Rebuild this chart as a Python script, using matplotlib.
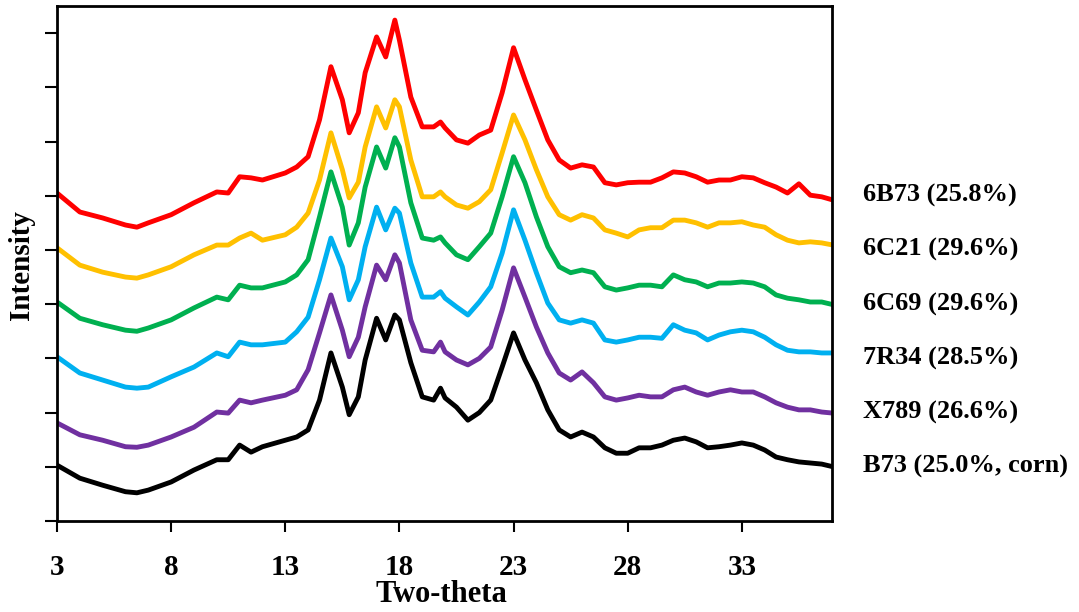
import matplotlib
matplotlib.use("Agg")
import matplotlib.pyplot as plt

# Diffraction angle (degrees two-theta) shared by all patterns
two_theta = [3, 4, 5, 6, 6.5, 7, 8, 9, 10, 10.5, 11, 11.5, 12, 13, 13.5, 14, 14.5,
             15, 15.5, 15.8, 16.2, 16.5, 17, 17.4, 17.8, 18, 18.5, 19, 19.5, 19.8,
             20, 20.5, 21, 21.5, 22, 22.5, 23, 23.5, 24, 24.5, 25, 25.5, 26, 26.5,
             27, 27.5, 28, 28.5, 29, 29.5, 30, 30.5, 31, 31.5, 32, 32.5, 33, 33.5,
             34, 34.5, 35, 35.5, 36, 36.5, 37]

# Stacked intensity traces (arbitrary units, already offset)
b73 = [1.03, 0.79, 0.66, 0.54, 0.52, 0.57, 0.72, 0.94, 1.13, 1.13, 1.40, 1.27, 1.37,
       1.49, 1.55, 1.68, 2.23, 3.10, 2.47, 1.96, 2.29, 2.97, 3.74, 3.34, 3.80, 3.71,
       2.92, 2.29, 2.23, 2.45, 2.27, 2.10, 1.86, 2.00, 2.23, 2.84, 3.47, 2.97, 2.55,
       2.05, 1.68, 1.55, 1.64, 1.55, 1.35, 1.25, 1.25, 1.35, 1.35, 1.40, 1.49, 1.53,
       1.46, 1.35, 1.37, 1.40, 1.44, 1.40, 1.31, 1.18, 1.13, 1.09, 1.07, 1.05, 1.00]
x789 = [1.81, 1.59, 1.49, 1.37, 1.36, 1.40, 1.55, 1.73, 2.01, 1.99, 2.23, 2.18, 2.23,
        2.32, 2.42, 2.79, 3.47, 4.17, 3.52, 3.03, 3.39, 3.95, 4.72, 4.45, 4.91, 4.76,
        3.71, 3.15, 3.12, 3.30, 3.12, 2.97, 2.88, 3.00, 3.21, 3.89, 4.67, 4.13, 3.58,
        3.10, 2.73, 2.60, 2.75, 2.55, 2.29, 2.23, 2.27, 2.32, 2.29, 2.29, 2.42, 2.47,
        2.38, 2.32, 2.38, 2.42, 2.38, 2.38, 2.29, 2.18, 2.10, 2.05, 2.05, 2.01, 1.99]
r7r34 = [3.03, 2.73, 2.60, 2.47, 2.45, 2.47, 2.66, 2.84, 3.10, 3.03, 3.30, 3.25, 3.25,
         3.30, 3.49, 3.76, 4.45, 5.22, 4.69, 4.08, 4.45, 5.06, 5.79, 5.37, 5.77, 5.68,
         4.76, 4.13, 4.13, 4.23, 4.11, 3.95, 3.80, 4.04, 4.32, 4.94, 5.74, 5.18, 4.58,
         4.02, 3.71, 3.65, 3.71, 3.65, 3.34, 3.30, 3.34, 3.39, 3.39, 3.37, 3.62, 3.52,
         3.47, 3.34, 3.43, 3.49, 3.52, 3.49, 3.39, 3.25, 3.15, 3.12, 3.12, 3.10, 3.10]
c6c69 = [4.04, 3.74, 3.62, 3.52, 3.50, 3.56, 3.71, 3.93, 4.13, 4.08, 4.35, 4.30, 4.30,
         4.41, 4.54, 4.82, 5.61, 6.44, 5.79, 5.09, 5.50, 6.16, 6.90, 6.51, 7.07, 6.90,
         5.87, 5.22, 5.18, 5.24, 5.13, 4.91, 4.82, 5.06, 5.31, 5.98, 6.72, 6.24, 5.61,
         5.06, 4.69, 4.58, 4.63, 4.58, 4.32, 4.26, 4.30, 4.35, 4.35, 4.32, 4.54, 4.45,
         4.41, 4.32, 4.39, 4.39, 4.41, 4.39, 4.32, 4.17, 4.11, 4.08, 4.04, 4.04, 3.99]
c6c21 = [5.04, 4.72, 4.59, 4.50, 4.48, 4.54, 4.69, 4.91, 5.09, 5.09, 5.22, 5.31, 5.18,
         5.28, 5.42, 5.68, 6.29, 7.16, 6.48, 5.96, 6.25, 6.90, 7.64, 7.25, 7.77, 7.64,
         6.66, 5.98, 5.98, 6.07, 5.98, 5.83, 5.77, 5.89, 6.11, 6.79, 7.49, 7.03, 6.48,
         5.98, 5.65, 5.55, 5.65, 5.59, 5.37, 5.31, 5.24, 5.37, 5.41, 5.41, 5.55, 5.55,
         5.50, 5.42, 5.50, 5.50, 5.52, 5.46, 5.42, 5.28, 5.18, 5.13, 5.15, 5.13, 5.09]
b6b73 = [6.05, 5.70, 5.59, 5.46, 5.42, 5.50, 5.65, 5.87, 6.07, 6.05, 6.35, 6.33, 6.29,
         6.42, 6.53, 6.72, 7.40, 8.38, 7.77, 7.16, 7.53, 8.27, 8.93, 8.56, 9.24, 8.87,
         7.82, 7.27, 7.27, 7.36, 7.25, 7.03, 6.97, 7.12, 7.21, 7.90, 8.73, 8.14, 7.58,
         7.03, 6.66, 6.51, 6.57, 6.53, 6.24, 6.20, 6.24, 6.25, 6.25, 6.33, 6.44, 6.42,
         6.35, 6.25, 6.29, 6.29, 6.35, 6.33, 6.24, 6.16, 6.05, 6.22, 6.01, 5.98, 5.92]

series = [b73, x789, r7r34, c6c69, c6c21, b6b73]
labels = ["B73 (25.0%, corn)", "X789 (26.6%)", "7R34 (28.5%)",
          "6C69 (29.6%)", "6C21 (29.6%)", "6B73 (25.8%)"]
colors = ["#000000", "#7030A0", "#00B0F0", "#00B050", "#FFC000", "#FF0000"]

x_ticks = [3, 8, 13, 18, 23, 28, 33]

serif = ["Liberation Serif", "DejaVu Serif"]

fig = plt.figure(figsize=(10.79, 6.12), dpi=100)
ax = fig.add_axes([57 / 1079, 1 - 521 / 612, 775 / 1079, 515 / 612])

for ys, c in zip(series, colors):
    ax.plot(two_theta, ys, color=c, lw=3.5, solid_joinstyle="round",
            solid_capstyle="round")

ax.set_xlim(3, 36.95)
ax.set_ylim(0, 9.5)
ax.set_xticks(x_ticks)
ax.set_xticklabels([str(t) for t in x_ticks], fontfamily=serif,
                   fontweight="bold", fontsize=21)
ax.set_yticks(range(0, 10))
ax.set_yticklabels([])
ax.tick_params(axis="x", direction="out", length=8, width=1.5, pad=16)
ax.tick_params(axis="y", direction="out", length=9, width=1.5)
for sp in ax.spines.values():
    sp.set_linewidth(2.0)

# Sample names placed to the right of each trace
for i, lab in enumerate(labels):
    ax.annotate(lab, xy=(1.040, i + 1), xycoords=("axes fraction", "data"),
                ha="left", va="center", fontfamily=serif, fontweight="bold",
                fontsize=19, annotation_clip=False)

fig.text(441 / 1079, 1 - 594 / 612, "Two-theta", ha="center", va="center",
         fontfamily=serif, fontweight="bold", fontsize=22)
fig.text(22 / 1079, 1 - 265 / 612, "Intensity", ha="center", va="center",
         rotation=90, fontfamily=serif, fontweight="bold", fontsize=21)

fig.savefig("out.png", dpi=100)
